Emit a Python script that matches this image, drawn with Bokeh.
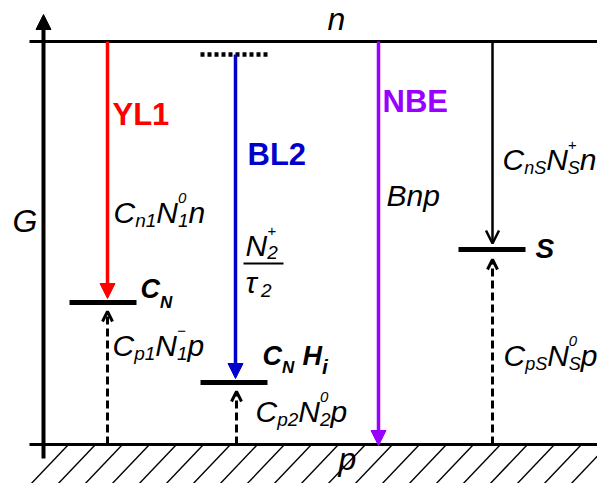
from bokeh.plotting import figure
from bokeh.models import Range1d, Arrow, NormalHead, OpenHead, ColumnDataSource
from bokeh.core.properties import value, field
from bokeh.embed import file_html
from bokeh.resources import INLINE

# ---- diagram data (pixel-space energy diagram) ----
band_y = {"n": 41, "p": 444}                 # conduction / valence band
band_x = [29, 597]
axis_x = 43
axis_y = [458, 14]

# recombination transitions (downward, from conduction band)
trans_names = ["YL1", "BL2", "NBE", "S"]
trans_x = [107, 235, 378, 492]
trans_top = [41, 54, 41, 41]
trans_tip = [298, 378, 445, 243]
trans_colors = ["#FF0000", "#0000CC", "#9900FF", "#000000"]

# defect levels
level_names = ["C_N", "C_N H_i", "S"]
level_x0 = [69, 200, 458]
level_x1 = [136, 267, 525]
level_y = [302, 382, 249]

# hole capture (dashed upward arrows)
cap_x = [107, 236, 492]
cap_tip = [311, 391, 259]

# excited-state dotted level
dot_x = [200, 267]
dot_y = 54

FONT = "Liberation Sans"
BASE_SHIFT = 0.3465   # svg text is vertically centred; shift to put y on the baseline

p = figure(width=597, height=483, x_range=Range1d(0, 597), y_range=Range1d(483, 0),
           output_backend="svg", toolbar_location=None, min_border=0,
           x_axis_location=None, y_axis_location=None)
p.grid.visible = False
p.outline_line_color = None
p.background_fill_color = "white"
p.border_fill_color = "white"

# hatching under valence band
hatch_tops = list(range(68, 640, 27))
p.segment(x0=[t - 40 for t in hatch_tops], y0=[486] * len(hatch_tops),
          x1=hatch_tops, y1=[band_y["p"]] * len(hatch_tops),
          line_color="black", line_width=1.4)

# bands
p.segment(x0=[band_x[0]] * 2, y0=[band_y["n"], band_y["p"]],
          x1=[band_x[1]] * 2, y1=[band_y["n"], band_y["p"]],
          line_color="black", line_width=3)

# vertical G axis
p.add_layout(Arrow(x_start=axis_x, y_start=axis_y[0], x_end=axis_x, y_end=axis_y[1],
                   line_width=4, line_color="black",
                   end=NormalHead(size=15, fill_color="black", line_color="black", line_width=1)))

# defect levels
p.segment(x0=level_x0, y0=level_y, x1=level_x1, y1=level_y,
          line_color="black", line_width=5, line_cap="butt")
# dotted level
p.segment(x0=[dot_x[0]], y0=[dot_y], x1=[dot_x[1]], y1=[dot_y],
          line_color="black", line_width=4.5, line_dash="4 3", line_cap="butt")

# transitions
for i in range(4):
    c = trans_colors[i]
    if i < 3:
        head = NormalHead(size=15, fill_color=c, line_color=c, line_width=1)
        lw = 3.5
    else:
        head = OpenHead(size=13, line_color=c, line_width=2.5)
        lw = 2.5
    p.add_layout(Arrow(x_start=trans_x[i], y_start=trans_top[i], x_end=trans_x[i],
                       y_end=trans_tip[i], line_width=lw, line_color=c, end=head))

# hole captures
for i in range(3):
    p.add_layout(Arrow(x_start=cap_x[i], y_start=band_y["p"], x_end=cap_x[i], y_end=cap_tip[i],
                       line_width=3, line_color="black", line_dash="8 4",
                       end=OpenHead(size=10, line_color="black", line_width=3)))

# fraction bar
p.segment(x0=[243], y0=[263], x1=[283], y1=[263], line_color="black", line_width=2)

# ---- rich text helper ----
REG = {'C': .722, 'N': .722, 'n': .556, 'p': .556, 'S': .667, 'B': .667, 'H': .722,
       'i': .222, '+': .584, '\u2212': .584, '\u03c4': .52, ' ': .278, 'G': .778}
BOLD = {'C': .722, 'N': .722, 'H': .722, 'i': .278, 'S': .667, 'Y': .667, 'L': .611,
        'B': .722, 'E': .667, ' ': .278}


def tw(s, size, style):
    tab = BOLD if "bold" in style else REG
    return sum(tab.get(ch, .556) for ch in s) * size


pieces = dict(x=[], y=[], text=[], size=[], style=[], color=[])


def put(x, y, s, size, style, color):
    pieces["x"].append(x)
    pieces["y"].append(y - BASE_SHIFT * size)
    pieces["text"].append(s)
    pieces["size"].append(f"{size}px")
    pieces["style"].append(style)
    pieces["color"].append(color)


def rich(x0, y0, tokens, size=30, style="italic", color="black",
         sub=19, sup=15, sub_dy=5, sup_dy=-19):
    x = x0
    for base, sb, sp in tokens:
        put(x, y0, base, size, style, color)
        x += tw(base, size, style)
        w2 = 0
        if sb:
            put(x, y0 + sub_dy, sb, sub, style, color)
            w2 = tw(sb, sub, style)
        if sp:
            put(x, y0 + sup_dy, sp, sup, style, color)
            w2 = max(w2, tw(sp, sup, style))
        x += w2


# transition names
rich(112, 125, [("YL1", None, None)], 31, "bold", trans_colors[0])
rich(247, 165, [("BL2", None, None)], 31, "bold", trans_colors[1])
rich(382, 112, [("NBE", None, None)], 31, "bold", trans_colors[2])

# rates
rich(113, 222, [("C", "n1", None), ("N", "1", "0"), ("n", None, None)])
rich(112, 355, [("C", "p1", None), ("N", "1", "\u2212"), ("p", None, None)])
rich(245, 255, [("N", "2", "+")], sub_dy=4)
rich(245, 292, [("\u03c4", "2", None)])
rich(255, 421, [("C", "p2", None), ("N", "2", "0"), ("p", None, None)])
rich(386, 205, [("Bnp", None, None)])
rich(502, 169, [("C", "nS", None), ("N", "S", "+"), ("n", None, None)], sub=18)
rich(503, 365, [("C", "pS", None), ("N", "S", "0"), ("p", None, None)], sub=18)

# level names
rich(140, 298, [("C", "N", None)], 27, "bold italic", sub=17, sub_dy=10)
rich(262, 365, [("C", "N", None)], 27, "bold italic", sub=17, sub_dy=8)
rich(302, 365, [("H", "i", None)], 27, "bold italic", sub=21, sub_dy=8)
rich(535, 258, [("S", None, None)], 28, "bold italic")

# axis / band labels
rich(12, 232, [("G", None, None)], 32)
rich(327, 30, [("n", None, None)], 32)
rich(338, 470, [("p", None, None)], 32)

src = ColumnDataSource(pieces)
p.text(x="x", y="y", text="text", source=src, text_font=value(FONT),
       text_font_size=field("size"), text_font_style=field("style"),
       text_color=field("color"), text_baseline="alphabetic", text_align="left")

open("out.html", "w").write(file_html(p, INLINE))
